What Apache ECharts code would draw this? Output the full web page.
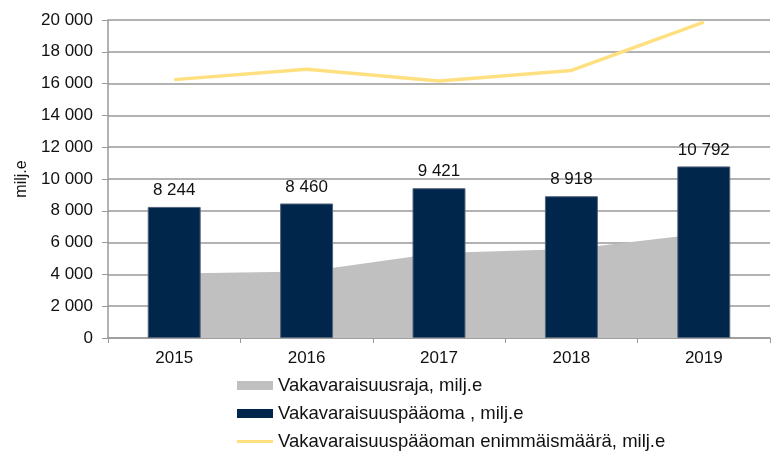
<!DOCTYPE html>
<html>
<head>
<meta charset="utf-8">
<script src="https://cdn.jsdelivr.net/npm/echarts@6/dist/echarts.min.js"></script>
<style>
  html, body { margin: 0; padding: 0; background: #fff; }
  #chart { width: 772px; height: 452px; }
</style>
</head>
<body>
<div id="chart"></div>
<script>
var years = ['2015', '2016', '2017', '2018', '2019'];
var raja = [4050, 4190, 5350, 5600, 6580];
var paaoma = [8244, 8460, 9421, 8918, 10792];
var enimmais = [16250, 16900, 16160, 16830, 19860];

var names = [
    'Vakavaraisuusraja, milj.e',
    'Vakavaraisuuspääoma , milj.e',
    'Vakavaraisuuspääoman enimmäismäärä, milj.e'
];

function fmt(v) {
    return String(v).replace(/\B(?=(\d{3})+(?!\d))/g, ' ');
}

var font = 'Liberation Sans, Arial, sans-serif';

var myChart = echarts.init(document.getElementById('chart'));

var option = {
    animation: false,
    textStyle: { fontFamily: font },
    grid: {
        left: 108,
        right: 2,
        top: 20,
        bottom: 114
    },
    legend: {
        orient: 'vertical',
        left: 232,
        top: 371,
        height: 120,
        itemWidth: 36,
        itemHeight: 9,
        itemGap: 9,
        symbolKeepAspect: true,
        textStyle: { fontSize: 18.5, color: '#111', fontFamily: font },
        data: [
            { name: names[0], icon: 'rect' },
            { name: names[1], icon: 'rect', itemStyle: { borderWidth: 0 } },
            { name: names[2], icon: 'path://M0,0 L36,0 L36,3 L0,3 Z' }
        ]
    },
    xAxis: {
        type: 'category',
        data: years,
        boundaryGap: true,
        axisLine: { lineStyle: { color: '#999', width: 1.5 } },
        axisTick: { show: true, length: 5, lineStyle: { color: '#999' } },
        axisLabel: { fontSize: 17, color: '#111', margin: 12 }
    },
    yAxis: {
        type: 'value',
        min: 0,
        max: 20000,
        interval: 2000,
        name: 'milj.e',
        nameLocation: 'middle',
        nameRotate: 90,
        nameGap: 78,
        nameTextStyle: { fontSize: 16, color: '#111' },
        axisLine: { show: true, lineStyle: { color: '#999', width: 1.5 } },
        axisTick: { show: true, length: 6, lineStyle: { color: '#999' } },
        axisLabel: {
            fontSize: 17,
            color: '#111',
            margin: 15,
            formatter: function (v) { return fmt(v); }
        },
        splitLine: { lineStyle: { color: '#999', width: 1.5 } }
    },
    series: [
        {
            name: names[0],
            type: 'line',
            data: raja,
            symbol: 'none',
            lineStyle: { width: 0 },
            itemStyle: { color: '#c0c0c0' },
            areaStyle: { color: '#c0c0c0', opacity: 1 },
            z: 1
        },
        {
            name: names[1],
            type: 'bar',
            data: paaoma,
            barWidth: '40%',
            itemStyle: { color: '#00264b', borderColor: '#54657a', borderWidth: 1 },
            label: {
                show: true,
                position: 'top',
                distance: 8,
                fontSize: 17,
                color: '#111',
                formatter: function (p) { return fmt(p.value); }
            },
            z: 2
        },
        {
            name: names[2],
            type: 'line',
            data: enimmais,
            symbol: 'none',
            itemStyle: { color: '#ffe080' },
            lineStyle: { color: '#ffe080', width: 3.5 },
            z: 3
        }
    ]
};

myChart.setOption(option);
</script>
</body>
</html>
